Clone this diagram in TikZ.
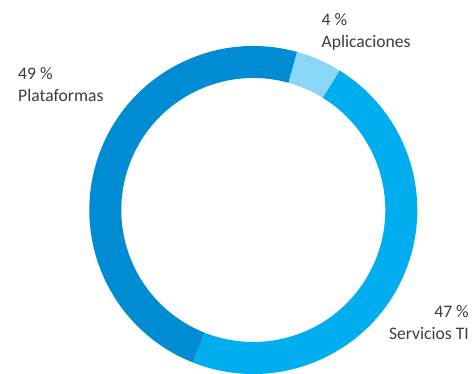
\documentclass[tikz,border=0pt]{standalone}
\usepackage{fontspec}
\setmainfont{Carlito}
\usepackage{tikz}
\definecolor{P}{RGB}{0, 140, 210}
\definecolor{S}{RGB}{0, 174, 239}
\definecolor{A}{RGB}{138, 214, 247}
\definecolor{T}{RGB}{60, 60, 60}
\tikzset{lbl/.style={inner sep=0pt, text=T, font=\fontsize{17.6}{21.8}\selectfont}}

\begin{document}
\begin{tikzpicture}[x=1pt,y=1pt]
  \useasboundingbox (0,0) rectangle (474,373);
  \coordinate (c) at (253.3,163);
  \fill[color=P] ([shift={(74.5:164)}]c) arc[start angle=74.5, end angle=248.5, radius=164]
    -- ([shift={(248.5:132)}]c) arc[start angle=248.5, end angle=74.5, radius=132] -- cycle;
  \fill[color=S] ([shift={(-111.5:164)}]c) arc[start angle=-111.5, end angle=58.3, radius=164]
    -- ([shift={(58.3:132)}]c) arc[start angle=58.3, end angle=-111.5, radius=132] -- cycle;
  \fill[color=A] ([shift={(58.3:164)}]c) arc[start angle=58.3, end angle=74.5, radius=164]
    -- ([shift={(74.5:132)}]c) arc[start angle=74.5, end angle=58.3, radius=132] -- cycle;
  \node[lbl, anchor=north west, align=left] (plat) at (18,305.5) {49 \%\\Plataformas};
  \node[lbl, anchor=north west, align=left] (apl) at (321.5,360) {4 \%\\Aplicaciones};
  \node[lbl, anchor=north east, align=right] (serv) at (469,67.5) {47 \%\\Servicios TI};
\end{tikzpicture}
\end{document}
